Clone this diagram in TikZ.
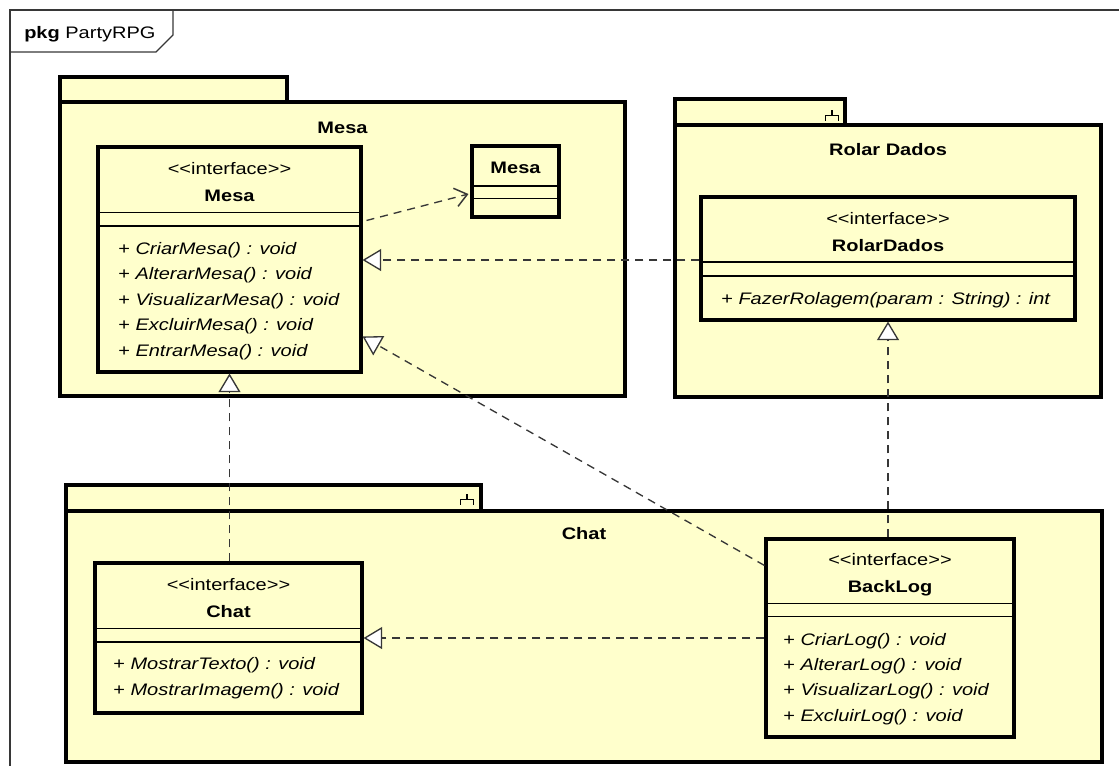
\documentclass[tikz,border=0pt]{standalone}
\usepackage{fontspec}
\setmainfont{Liberation Sans}[FakeStretch=1.2]
\usetikzlibrary{arrows.meta,calc,fit}

\definecolor{umlfill}{RGB}{255,255,204}
\definecolor{umlline}{RGB}{55,55,55}

\newcommand{\stereotype}[1]{<\kern0pt<#1>\kern0pt>}

\tikzset{
  classbox/.style={draw=black, line width=2.3pt, fill=umlfill, inner sep=0pt},
  pkgbox/.style={draw=black, line width=2.3pt, fill=umlfill},
  compline/.style={draw=black, line width=1.1pt},
  umltext/.style={inner sep=0pt, font=\fontsize{12.5}{15}\selectfont},
  stereo/.style={umltext, anchor=base},
  cname/.style={umltext, anchor=base, font=\fontsize{12.5}{15}\selectfont\bfseries},
  opline/.style={umltext, anchor=base west},
  iconline/.style={draw=black, line width=1pt},
  realize/.style={draw=umlline, line width=1pt, dash pattern=on 6pt off 4.5pt,
    -{Triangle[fill=white, length=14pt, width=16.5pt, line width=1pt]}},
  depend/.style={draw=umlline, line width=1pt, dash pattern=on 6pt off 4.5pt,
    -{Straight Barb[length=9pt, width=14pt, line width=1.1pt]}}
}

\begin{document}
\begin{tikzpicture}[x=0.75pt, y=-0.75pt]
  \useasboundingbox (0,0) rectangle (1119,765);
  \clip (0,0) rectangle (1119,765);

  % outer package frame
  \draw[umlline, line width=0.9pt] (10,780) -- (10,10) -- (1130,10);
  \draw[umlline, line width=0.9pt] (10,52) -- (156,52) -- (173,35) -- (173,10);
  \node[anchor=base west, inner sep=0pt, font=\fontsize{12.5}{15}\selectfont] (frametitle)
    at (24,38) {\textbf{pkg} PartyRPG};

  % package Mesa
  \draw[pkgbox] (60,77) rectangle (287,102);
  \draw[pkgbox] (60,102) rectangle (625,396);
  \node[cname] (pkgMesa) at (342.5,133) {Mesa};

  % package Rolar Dados
  \draw[pkgbox] (675,99) rectangle (845,125);
  \draw[pkgbox] (675,125) rectangle (1101,397);
  \draw[iconline] (832,110) -- (832,115.5) (825.5,120.5) -- (825.5,115.5) -- (838.5,115.5) -- (838.5,120.5);
  \node[cname] (pkgRolar) at (888,155) {Rolar Dados};

  % package Chat
  \draw[pkgbox] (66,485) rectangle (481,511);
  \draw[pkgbox] (66,511) rectangle (1102,762);
  \draw[iconline] (467,494) -- (467,499.5) (460.5,504.5) -- (460.5,499.5) -- (473.5,499.5) -- (473.5,504.5);
  \node[cname] (pkgChat) at (584,539) {Chat};

  % interface Mesa
  \node[classbox, fit={(98,147) (361,372)}] (mesaI) {};
  \draw[compline] (98,212.5) -- (361,212.5) (98,226) -- (361,226);
  \node[stereo] (mesaIst) at (229.5,174) {\stereotype{interface}};
  \node[cname] (mesaInm) at (229.5,201) {Mesa};
  \node[opline] (mesaIo1) at (118,254) {+ \textit{CriarMesa() : void}};
  \node[opline] (mesaIo2) at (118,279.5) {+ \textit{AlterarMesa() : void}};
  \node[opline] (mesaIo3) at (118,305) {+ \textit{VisualizarMesa() : void}};
  \node[opline] (mesaIo4) at (118,330.5) {+ \textit{ExcluirMesa() : void}};
  \node[opline] (mesaIo5) at (118,356) {+ \textit{EntrarMesa() : void}};

  % class Mesa
  \node[classbox, fit={(472,146) (559,217)}] (mesaC) {};
  \draw[compline] (472,186) -- (559,186) (472,198.5) -- (559,198.5);
  \node[cname] (mesaCnm) at (515.5,173) {Mesa};

  % interface RolarDados
  \node[classbox, fit={(701,197) (1075,320)}] (rolar) {};
  \draw[compline] (701,262) -- (1075,262) (701,276) -- (1075,276);
  \node[stereo] (rolarst) at (888,224) {\stereotype{interface}};
  \node[cname] (rolarnm) at (888,251) {RolarDados};
  \node[opline] (rolaro1) at (721,304) {+ \textit{FazerRolagem(param : String) : int}};

  % interface Chat
  \node[classbox, fit={(95,563) (362,713)}] (chat) {};
  \draw[compline] (95,628.5) -- (362,628.5) (95,642) -- (362,642);
  \node[stereo] (chatst) at (228.5,590) {\stereotype{interface}};
  \node[cname] (chatnm) at (228.5,617) {Chat};
  \node[opline] (chato1) at (113,669) {+ \textit{MostrarTexto() : void}};
  \node[opline] (chato2) at (113,695) {+ \textit{MostrarImagem() : void}};

  % interface BackLog
  \node[classbox, fit={(766,539) (1014,737)}] (backlog) {};
  \draw[compline] (766,603.5) -- (1014,603.5) (766,616.5) -- (1014,616.5);
  \node[stereo] (backlogst) at (890,565) {\stereotype{interface}};
  \node[cname] (backlognm) at (890,592) {BackLog};
  \node[opline] (backlogo1) at (783,645) {+ \textit{CriarLog() : void}};
  \node[opline] (backlogo2) at (783,670) {+ \textit{AlterarLog() : void}};
  \node[opline] (backlogo3) at (783,695.5) {+ \textit{VisualizarLog() : void}};
  \node[opline] (backlogo4) at (783,721) {+ \textit{ExcluirLog() : void}};

  % relationships
  \draw[depend] ($(mesaI.north east)+(4,75)$) -- ($(mesaC.west)+(-2,12.5)$);
  \draw[realize] ($(rolar.west)+(0,1.5)$) -- ($(mesaI.east |- rolar.west)+(0,1.5)$);
  \draw[realize] ($(backlog.north west)+(0,28)$) -- ($(mesaI.north east)+(0,191)$);
  \draw[realize] (chat.north -| mesaI.south) -- (mesaI.south);
  \draw[realize] (backlog.north -| rolar.south) -- (rolar.south);
  \draw[realize] (backlog.west) -- (chat.east);
\end{tikzpicture}
\end{document}
